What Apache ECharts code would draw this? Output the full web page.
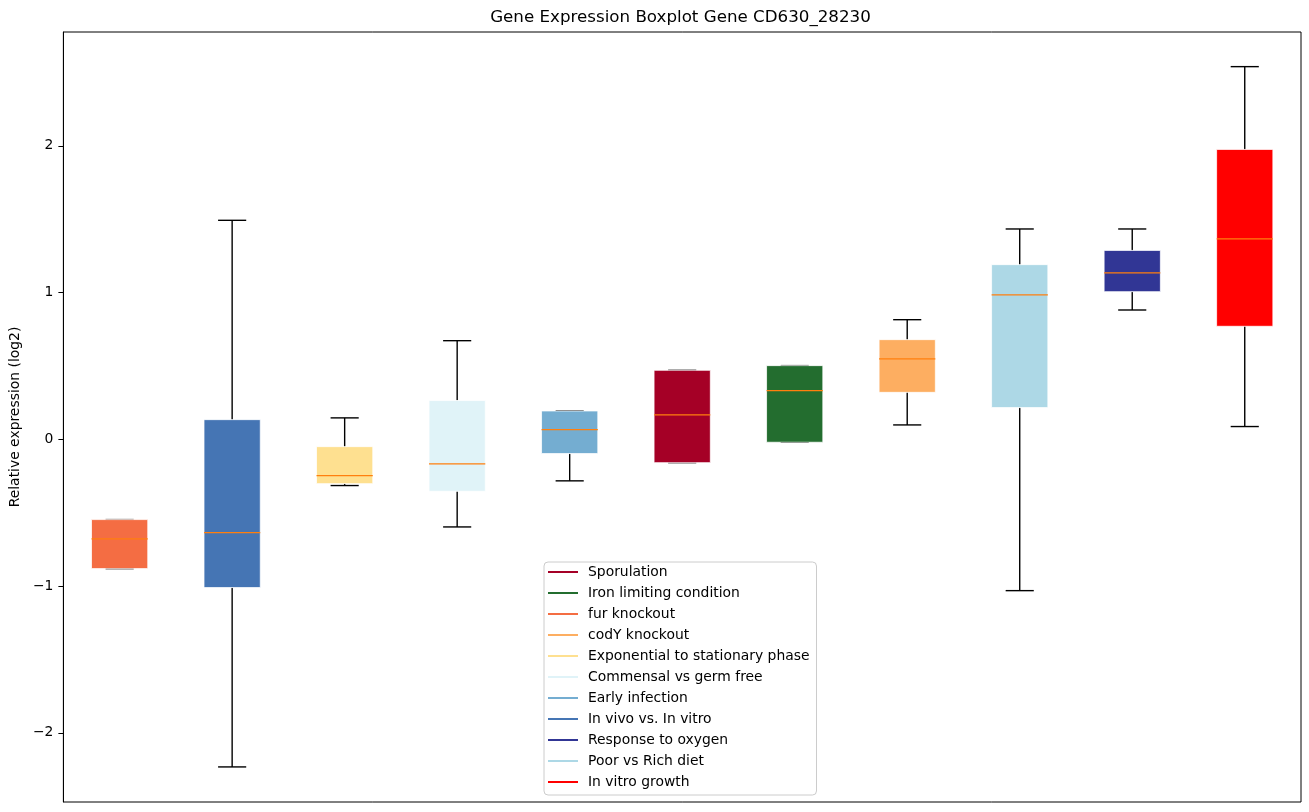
<!DOCTYPE html>
<html>
<head>
<meta charset="utf-8">
<script src="https://cdn.jsdelivr.net/npm/echarts@6/dist/echarts.min.js"></script>
<style>html,body{margin:0;padding:0;background:#fff;}#c{width:1309px;height:812px;}</style>
</head>
<body>
<div id="c"></div>
<script>
// Categories in plotting order (x positions 1..11)
var categories = ["fur knockout", "In vivo vs. In vitro", "Exponential to stationary phase", "Commensal vs germ free", "Early infection", "Sporulation", "Iron limiting condition", "codY knockout", "Poor vs Rich diet", "Response to oxygen", "In vitro growth"];
var colors = ["#f46d43", "#4575b4", "#fee090", "#e0f3f8", "#74add1", "#a50026", "#236d2f", "#fdae61", "#add8e6", "#313695", "#ff0000"];
// [lower whisker, Q1, median, Q3, upper whisker]
var whiskerLow = [-0.881, -2.232, -0.315, -0.597, -0.283, -0.159, -0.020, 0.098, -1.031, 0.881, 0.087];
var q1Values   = [-0.881, -1.010, -0.302, -0.354, -0.097, -0.159, -0.020, 0.320, 0.216, 1.006, 0.770];
var medians    = [-0.678, -0.636, -0.247, -0.168, 0.066, 0.166, 0.332, 0.548, 0.984, 1.134, 1.365];
var q3Values   = [-0.547, 0.134, -0.050, 0.264, 0.193, 0.470, 0.502, 0.679, 1.190, 1.287, 1.975];
var whiskerHigh= [-0.547, 1.492, 0.146, 0.672, 0.193, 0.470, 0.502, 0.815, 1.433, 1.433, 2.539];
var legendOrder = ["Sporulation", "Iron limiting condition", "fur knockout", "codY knockout", "Exponential to stationary phase", "Commensal vs germ free", "Early infection", "In vivo vs. In vitro", "Response to oxygen", "Poor vs Rich diet", "In vitro growth"];
var yTicks = [-2, -1, 0, 1, 2];

var FONT = "DejaVu Sans";
var BOX_W = 0.5, CAP_W = 0.25;

function renderBox(params, api) {
  var x = api.value(0);
  var wl = api.value(1), q1 = api.value(2), md = api.value(3), q3 = api.value(4), wh = api.value(5);
  var c = api.visual('color');
  var pL = api.coord([x - BOX_W / 2, q1]);
  var pR = api.coord([x + BOX_W / 2, q3]);
  var cL = api.coord([x - CAP_W / 2, wl])[0];
  var cR = api.coord([x + CAP_W / 2, wl])[0];
  var xc = api.coord([x, 0])[0];
  var yWl = api.coord([x, wl])[1], yWh = api.coord([x, wh])[1];
  var yQ1 = pL[1], yQ3 = pR[1], yMd = api.coord([x, md])[1];
  var lineStyle = {stroke: '#000', lineWidth: 1.4};
  return {
    type: 'group',
    children: [
      {type: 'line', shape: {x1: xc, y1: yQ1, x2: xc, y2: yWl}, style: lineStyle},
      {type: 'line', shape: {x1: xc, y1: yQ3, x2: xc, y2: yWh}, style: lineStyle},
      {type: 'line', shape: {x1: cL, y1: yWl, x2: cR, y2: yWl}, style: lineStyle},
      {type: 'line', shape: {x1: cL, y1: yWh, x2: cR, y2: yWh}, style: lineStyle},
      {type: 'rect', shape: {x: pL[0], y: yQ3, width: pR[0] - pL[0], height: yQ1 - yQ3},
        style: {fill: c, stroke: 'rgba(255,255,255,0.75)', lineWidth: 1}},
      {type: 'line', shape: {x1: pL[0], y1: yMd, x2: pR[0], y2: yMd}, style: {stroke: '#ff7f0e', lineWidth: 1.2}}
    ]
  };
}

var series = categories.map(function (name, i) {
  return {
    type: 'custom',
    name: name,
    itemStyle: {color: colors[i]},
    renderItem: renderBox,
    encode: {x: 0, y: [1, 2, 3, 4, 5]},
    data: [[i + 1, whiskerLow[i], q1Values[i], medians[i], q3Values[i], whiskerHigh[i]]]
  };
});

var chart = echarts.init(document.getElementById('c'), null, {renderer: 'canvas'});
chart.setOption({
  animation: false,
  backgroundColor: '#fff',
  title: {
    text: 'Gene Expression Boxplot Gene CD630_28230',
    left: 680.5, top: 9, textAlign: 'center', padding: 0,
    textStyle: {fontFamily: FONT, fontSize: 16.7, fontWeight: 'normal', color: '#000'}
  },
  grid: {left: 60, right: 8, top: 32, bottom: 10, show: true, borderColor: '#000', borderWidth: 1, backgroundColor: 'transparent'},
  xAxis: {
    type: 'value', min: 0.5, max: 11.5,
    axisLine: {show: false}, axisTick: {show: false}, axisLabel: {show: false}, splitLine: {show: false}
  },
  yAxis: {
    type: 'value', min: -2.471, max: 2.775,
    name: 'Relative expression (log2)', nameLocation: 'middle', nameGap: 38,
    nameTextStyle: {fontFamily: FONT, fontSize: 13.9, color: '#000'},
    axisLine: {show: true, lineStyle: {color: '#000', width: 1}},
    axisTick: {show: true, length: 5, lineStyle: {color: '#000', width: 1}, customValues: yTicks},
    axisLabel: {
      fontFamily: FONT, fontSize: 13.9, color: '#000', margin: 10, customValues: yTicks,
      formatter: function (v) { return String(v).replace('-', '\u2212'); }
    },
    splitLine: {show: false}
  },
  legend: {
    data: legendOrder,
    orient: 'vertical',
    left: 544, top: 562,
    padding: [3, 7, 6, 4],
    itemGap: 7,
    itemWidth: 30, itemHeight: 2,
    icon: 'rect',
    backgroundColor: 'rgba(255,255,255,0.8)',
    borderColor: '#cccccc', borderWidth: 1, borderRadius: 4,
    textStyle: {fontFamily: FONT, fontSize: 13.9, color: '#000', lineHeight: 14, padding: [0, 0, 0, 5]}
  },
  series: series
});
</script>
</body>
</html>
